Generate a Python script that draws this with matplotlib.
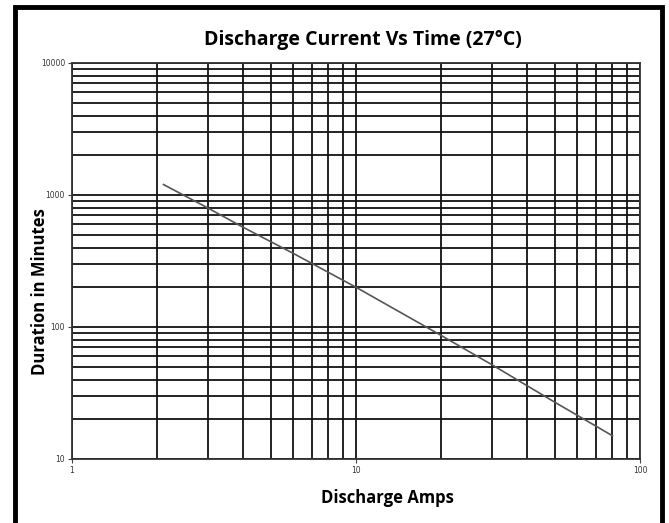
import numpy as np
import matplotlib.pyplot as plt
from matplotlib.patches import Rectangle
from matplotlib.ticker import LogLocator, FixedLocator, FixedFormatter, NullFormatter

# discharge curve (amps, minutes)
amps = [2.1, 3, 4, 6, 10, 20, 30, 50, 80]
minutes = [1200, 800, 570, 362, 200, 86, 52, 27, 15]

x_ticks = [1, 10, 100]
x_tick_labels = ["1", "10", "100"]
y_ticks = [10, 100, 1000, 10000]
y_tick_labels = ["10", "100", "1000", "10000"]

TITLE = "Discharge Current Vs Time (27°C)"
XLABEL = "Discharge Amps"
YLABEL = "Duration in Minutes"

GRID = "#111111"
FONT = ["Open Sans", "DejaVu Sans"]

fig = plt.figure(figsize=(6.69, 5.23), dpi=100)
ax = fig.add_axes([72 / 669, 1 - 459 / 523, (640 - 72) / 669, (459 - 63) / 523])

ax.plot(amps, minutes, color="#555555", linewidth=1.2, zorder=3)

ax.set_xscale("log")
ax.set_yscale("log")
ax.set_xlim(1, 100)
ax.set_ylim(10, 10000)

ax.xaxis.set_major_locator(FixedLocator(x_ticks))
ax.xaxis.set_major_formatter(FixedFormatter(x_tick_labels))
ax.yaxis.set_major_locator(FixedLocator(y_ticks))
ax.yaxis.set_major_formatter(FixedFormatter(y_tick_labels))
ax.xaxis.set_minor_locator(LogLocator(base=10, subs=np.arange(2, 10)))
ax.yaxis.set_minor_locator(LogLocator(base=10, subs=np.arange(2, 10)))
ax.xaxis.set_minor_formatter(NullFormatter())
ax.yaxis.set_minor_formatter(NullFormatter())

ax.grid(True, which="both", color=GRID, linewidth=1.3, zorder=1)
ax.set_axisbelow(True)

ax.tick_params(which="major", direction="out", length=3, width=0.8,
               color="#444444", labelsize=5.5, labelcolor="#333333", pad=2)
ax.tick_params(which="minor", length=0)

for spine in ax.spines.values():
    spine.set_color("#333333")
    spine.set_linewidth(1.3)

fig.text(363 / 669, 1 - 40 / 523, TITLE, ha="center", va="center",
         fontsize=14, fontweight="bold", family=FONT)
fig.text(387 / 669, 1 - 498 / 523, XLABEL, ha="center", va="center",
         fontsize=12, fontweight="bold", family=FONT)
fig.text(40 / 669, 1 - 292 / 523, YLABEL, ha="center", va="center",
         rotation=90, fontsize=12, fontweight="bold", family=FONT)

# thick black frame around the picture
frame = Rectangle((15 / 669, -0.05), (662 - 15) / 669, 1.05 - 7 / 523,
                  transform=fig.transFigure, fill=False,
                  edgecolor="black", linewidth=3.5, zorder=10)
fig.patches.append(frame)

fig.savefig("out.png", dpi=100)
